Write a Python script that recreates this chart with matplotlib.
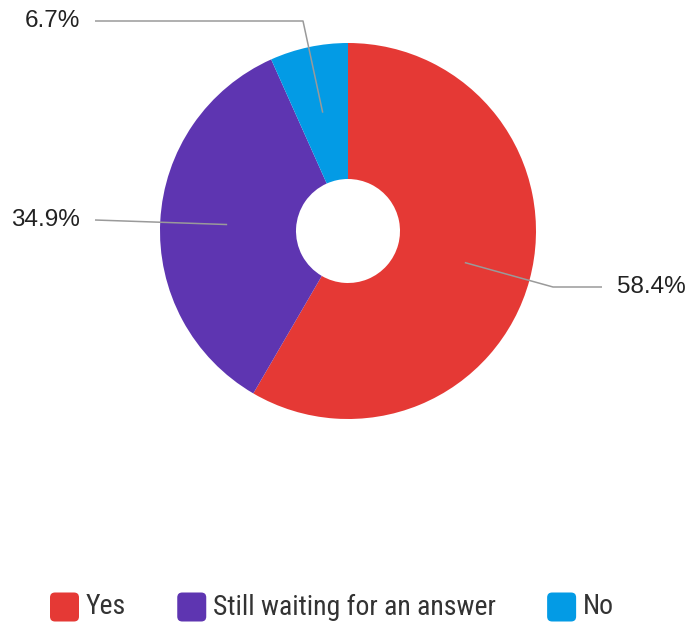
import numpy as np
import matplotlib.pyplot as plt
from matplotlib.patches import FancyBboxPatch

labels = ["Yes", "Still waiting for an answer", "No"]
shares = [58.4, 34.9, 6.7]
colors = ["#E53935", "#5E35B1", "#039BE5"]

W, H = 689, 626
fig = plt.figure(figsize=(W / 100, H / 100), dpi=100)
ax = fig.add_axes([0, 0, 1, 1])

cx, cy, R, r_in = 348, H - 231, 188, 52
wedges, _ = ax.pie(shares, colors=colors, startangle=90, counterclock=False,
                   center=(cx, cy), radius=R, frame=True,
                   wedgeprops=dict(width=R - r_in, linewidth=0))
ax.set_xlim(0, W)
ax.set_ylim(0, H)
ax.set_aspect("equal")
ax.axis("off")

label_font = dict(family=["Liberation Sans", "DejaVu Sans"], fontsize=17.5, color="#222222")
line_kw = dict(color="#9a9a9a", lw=1.1, solid_capstyle="butt")

# leader lines: point inside slice -> elbow -> label
for w, val in zip(wedges, shares):
    mid = np.deg2rad((w.theta1 + w.theta2) / 2)
    px = cx + 121 * np.cos(mid)
    py = cy + 121 * np.sin(mid)
    txt = f"{val}%"
    if np.cos(mid) > 0.5:
        ey = H - 287
        ax.plot([px, 553, 602], [py, ey, ey], **line_kw)
        ax.text(617, ey, txt, ha="left", va="center", **label_font)
    elif np.sin(mid) > 0.5:
        ey = H - 21
        ax.plot([px, 303, 95], [py, ey, ey], **line_kw)
        ax.text(80, ey, txt, ha="right", va="center", **label_font)
    else:
        ey = H - 220
        ax.plot([px, 95], [py, ey], **line_kw)
        ax.text(80, ey, txt, ha="right", va="center", **label_font)

# legend along the bottom, rounded swatches
leg_font = dict(family=["Roboto Condensed", "Open Sans Condensed", "Archivo Narrow", "DejaVu Sans"],
                fontsize=20, color="#333333")
renderer = fig.canvas.get_renderer()
x = 50
ly = H - 607
box = 29
for c, l in zip(colors, labels):
    ax.add_patch(FancyBboxPatch((x + 5, ly - box / 2 + 5), box - 10, box - 10,
                                boxstyle="round,pad=5", fc=c, ec="none"))
    t = ax.text(x + box + 7, ly, l, ha="left", va="center", **leg_font)
    bb = t.get_window_extent(renderer)
    x = bb.x1 + 51

fig.savefig("out.png", dpi=100, facecolor="white")
